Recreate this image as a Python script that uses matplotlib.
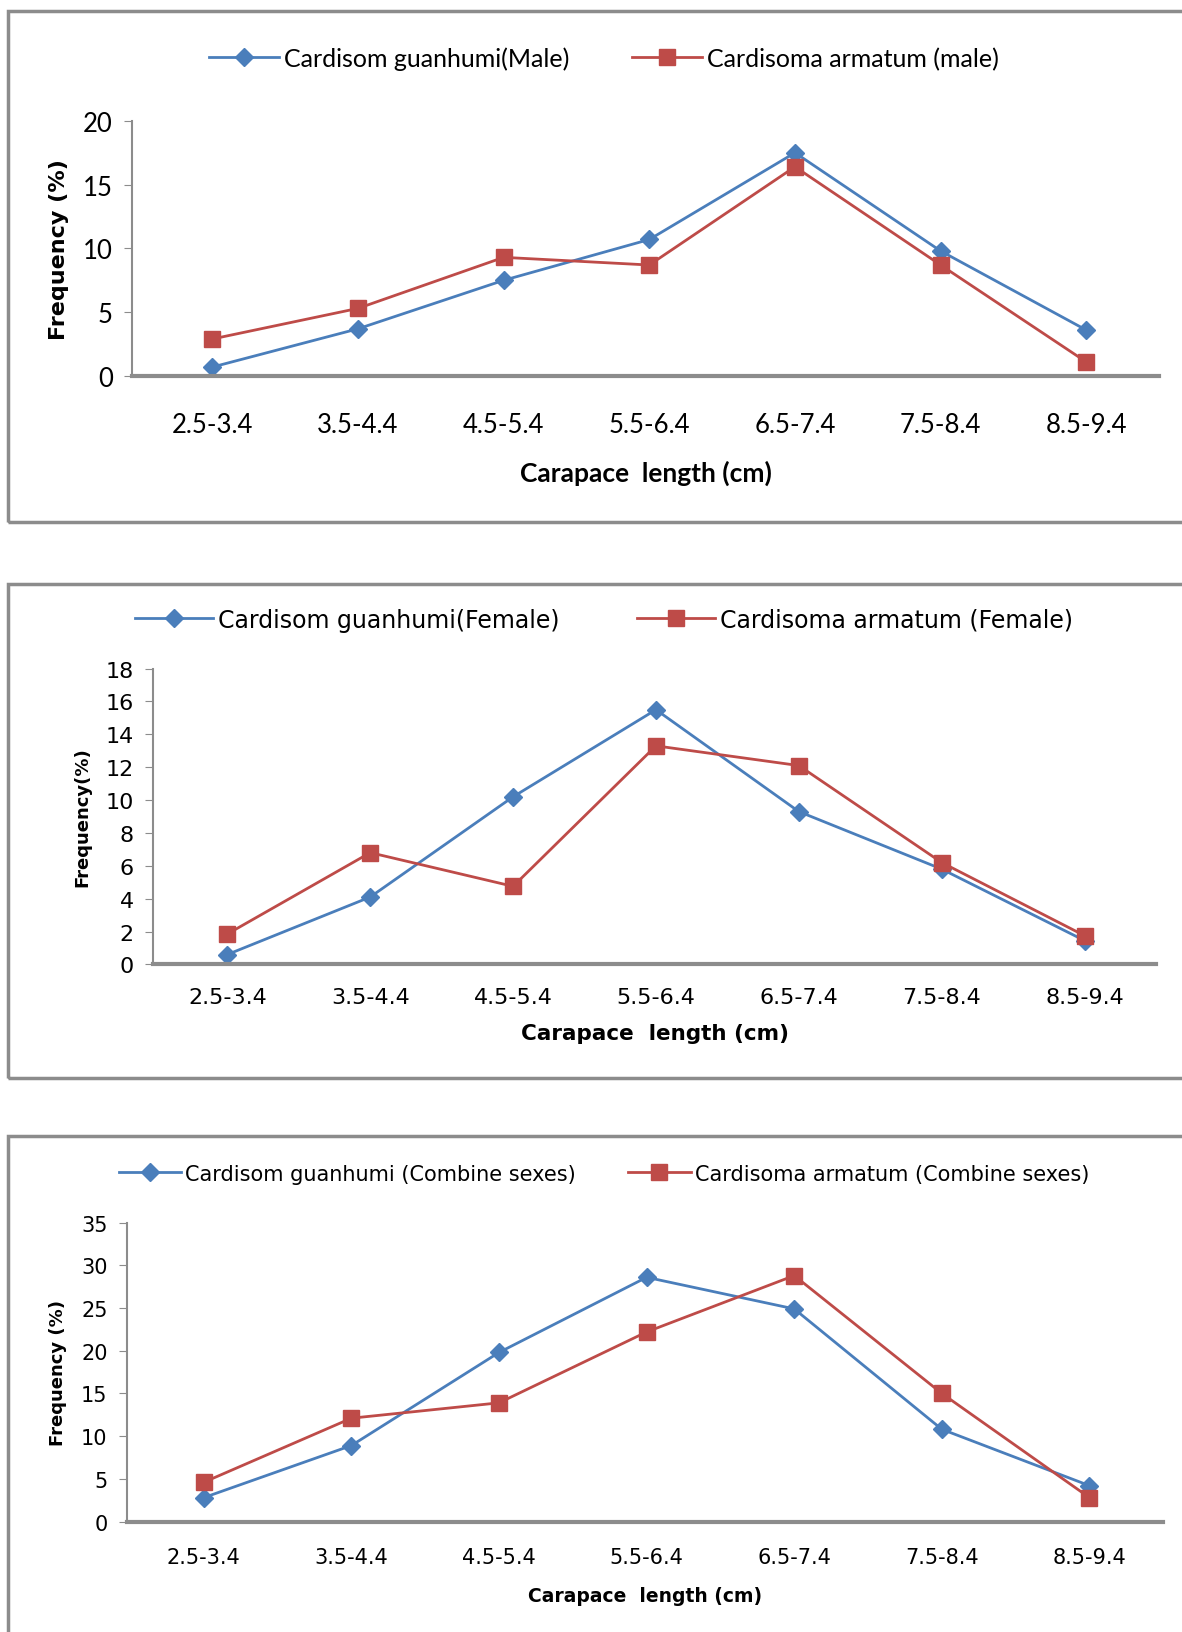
import matplotlib
matplotlib.use("Agg")
import matplotlib.pyplot as plt
from matplotlib.patches import Rectangle

# data
classes = ["2.5-3.4", "3.5-4.4", "4.5-5.4", "5.5-6.4", "6.5-7.4", "7.5-8.4", "8.5-9.4"]

guan_male = [0.7, 3.7, 7.5, 10.7, 17.5, 9.8, 3.6]
arma_male = [2.9, 5.3, 9.3, 8.7, 16.4, 8.7, 1.1]

guan_female = [0.6, 4.1, 10.2, 15.5, 9.3, 5.8, 1.45]
arma_female = [1.85, 6.8, 4.75, 13.3, 12.1, 6.2, 1.75]

guan_comb = [2.8, 8.9, 19.8, 28.6, 24.9, 10.8, 4.2]
arma_comb = [4.6, 12.1, 13.9, 22.2, 28.8, 15.0, 2.8]

labels_male = ["Cardisom guanhumi(Male)", "Cardisoma armatum (male)"]
labels_female = ["Cardisom guanhumi(Female)", "Cardisoma armatum (Female)"]
labels_comb = ["Cardisom guanhumi (Combine sexes)", "Cardisoma armatum (Combine sexes)"]

W, H = 1182, 1633
BLUE = "#4A7EBB"
RED = "#BE4B48"
GREY = "#8C8C8C"

fig = plt.figure(figsize=(W / 100, H / 100), dpi=100)
fig.patch.set_facecolor("white")

def px_axes(x0, x1, ytop, ybot):
    return fig.add_axes([x0 / W, 1 - ybot / H, (x1 - x0) / W, (ybot - ytop) / H])

def frame(ytop, ybot):
    r = Rectangle((8 / W, 1 - ybot / H), 1.2, (ybot - ytop) / H, transform=fig.transFigure,
                  fill=False, edgecolor=GREY, linewidth=2.5, clip_on=False)
    fig.patches.append(r)

def panel(ax, a, b, labels, ymax, ystep, xlim, font, fs, legfs, xlfs, xlpad, tpad,
          ylabel, ylabfs, legy, legx, hl, colsp):
    x = list(range(len(classes)))
    l1, = ax.plot(x, a, color=BLUE, lw=2, marker="D", ms=9, mec=BLUE)
    l2, = ax.plot(x, b, color=RED, lw=2, marker="s", ms=12, mec=RED)
    ax.set_xlim(xlim)
    ax.set_ylim(0, ymax)
    ax.set_yticks(range(0, ymax + 1, ystep))
    ax.set_xticks(x)
    ax.set_xticklabels(classes, family=font, fontsize=fs)
    for t in ax.get_yticklabels():
        t.set_family(font)
        t.set_fontsize(fs)
    ax.tick_params(axis="x", length=0, pad=tpad)
    ax.tick_params(axis="y", length=6, color=GREY, direction="out", pad=8)
    for s in ["top", "right"]:
        ax.spines[s].set_visible(False)
    ax.spines["left"].set_color(GREY)
    ax.spines["left"].set_linewidth(1.5)
    ax.spines["bottom"].set_color(GREY)
    ax.spines["bottom"].set_linewidth(3)
    ax.set_xlabel("Carapace  length (cm)", family=font, fontsize=xlfs, fontweight="bold", labelpad=xlpad)
    ax.set_ylabel(ylabel, family="DejaVu Sans", fontsize=ylabfs, fontweight="bold", labelpad=10)
    fig.legend([l1, l2], labels, loc="center", bbox_to_anchor=(legx / W, 1 - legy / H),
               ncol=2, frameon=False, prop={"family": font, "size": legfs},
               handlelength=hl, handletextpad=0.2, columnspacing=colsp)

s = 1.0414

# panel 1 (male)
frame(12 * s, 502 * s)
ax1 = px_axes(127 * s, 1113 * s, 117 * s, 362 * s)
panel(ax1, guan_male, arma_male, labels_male, 20, 5, (-0.55, 6.5), "Lato", 18.5, 18, 19, 16, 26,
      "Frequency (%)", 16, 57 * s, 580 * s, 2.8, 2.5)

# panel 2 (female)
frame(562 * s, 1036 * s)
ax2 = px_axes(147 * s, 1110 * s, 643 * s, 927 * s)
panel(ax2, guan_female, arma_female, labels_female, 18, 2, (-0.52, 6.5), "DejaVu Sans", 16, 17, 15.5, 12, 16,
      "Frequency(%)", 13, 596 * s, 580 * s, 3.3, 3.3)

# panel 3 (combined)
frame(1092 * s, 1700)
ax3 = px_axes(122 * s, 1117 * s, 1175 * s, 1462 * s)
panel(ax3, guan_comb, arma_comb, labels_comb, 35, 5, (-0.52, 6.5), "DejaVu Sans", 15, 15, 13.5, 14, 18,
      "Frequency (%)", 13, 1128 * s, 580 * s, 3, 2.5)

fig.savefig("out.png", dpi=100)
